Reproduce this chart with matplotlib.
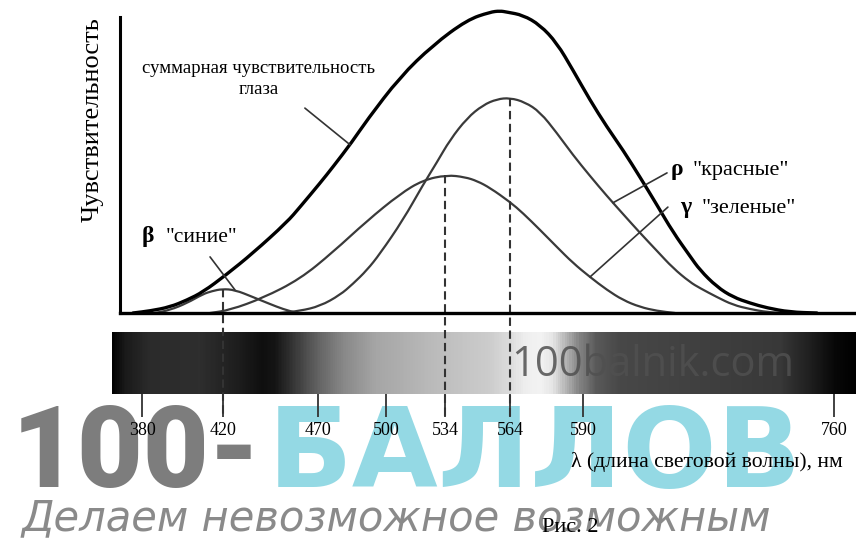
import numpy as np
import matplotlib
matplotlib.use("Agg")
from matplotlib import pyplot as plt
from matplotlib.path import Path
from matplotlib.patches import PathPatch

plt.rcParams['font.family'] = ['Liberation Serif', 'DejaVu Serif']

# wavelength ticks under the spectrum strip
tick_nm = [380, 420, 470, 500, 534, 564, 590, 760]

# the figure is schematic: the wavelength axis is not linear,
# so x goes through a piecewise scale (nm -> pixel column of the drawing)
scale_nm = [340, 380, 420, 470, 500, 534, 564, 590, 760, 800]
scale_px = [62, 142, 223, 318, 386, 445, 510, 583, 834, 893]

# summary sensitivity of the eye
total_nm = [375.5, 384.0, 393.8, 402.2, 410.1, 421.6, 435.8, 453.7, 460.5, 470.9,
            476.6, 485.0, 491.6, 508.1, 527.1, 544.2, 554.8, 559.4, 562.6, 568.6,
            574.7, 580.7, 586.4, 594.7, 606.2, 617.1, 628.6, 640.1, 650.9, 662.4,
            669.2, 680.7, 691.6, 703.1, 714.6, 730.1, 748.4]
total_y = [0, 0.7, 2.0, 4.3, 7.0, 12.7, 20.0, 30.3, 35.3, 43.3,
           48.7, 57.0, 64.3, 78.7, 89.3, 97.7, 100.3, 100.7, 100.3, 99.3,
           96.0, 90.0, 81.0, 71.0, 62.0, 54.3, 45.3, 36.0, 27.0, 19.0,
           14.3, 8.7, 5.3, 3.3, 1.7, 0.3, 0]

# rho, "red" cones
rho_nm = [450.0, 460.5, 470.9, 479.7, 485.4, 491.6, 497.3, 509.8, 521.3, 529.4,
          536.3, 544.2, 551.5, 558.0, 564.0, 569.3, 574.7, 580.7, 586.4, 594.7,
          606.2, 617.1, 628.6, 640.1, 650.9, 662.4, 669.2, 680.7, 691.6, 703.1,
          714.6, 726.8]
rho_y = [0, 0.7, 2.3, 6.0, 9.7, 14.3, 19.7, 31.0, 42.7, 50.3,
         57.7, 65.0, 69.3, 71.3, 71.7, 70.3, 67.0, 60.0, 52.7, 45.7,
         39.0, 33.0, 26.7, 20.7, 15.0, 10.3, 8.3, 5.3, 2.7, 1.3,
         0.3, 0]

# gamma, "green" cones
gamma_nm = [413.6, 423.7, 441.0, 460.5, 476.6, 491.6, 508.1, 521.3, 534.9, 543.2,
            548.8, 554.8, 564.0, 568.6, 574.7, 580.7, 586.4, 594.7, 606.2, 617.1,
            628.6, 640.1, 652.3]
gamma_y = [0, 1.0, 5.0, 11.3, 20.3, 30.7, 39.7, 44.3, 46.0, 45.3,
           44.0, 41.7, 37.0, 33.3, 27.7, 22.0, 16.7, 12.0, 7.7, 4.3,
           2.0, 0.7, 0]

# beta, "blue" cones
beta_nm = [386.4, 393.8, 402.2, 410.1, 414.6, 419.5, 426.3, 435.8, 444.7, 451.6, 458.9]
beta_y = [0, 1.0, 3.3, 6.3, 7.3, 8.0, 7.7, 5.3, 3.0, 1.3, 0]

# grey level of the spectrum strip
strip_nm = [365, 371.5, 384, 408.7, 426.3, 440.5, 447.4, 465.8, 481.0, 496.0,
            523.6, 539.1, 554.8, 564.0, 569.3, 574.7, 579.0, 583.6, 588.9, 598.8,
            615.0, 669.2, 723.4, 743.7, 760.7, 775]
strip_grey = [0.0, 0.10, 0.17, 0.18, 0.12, 0.06, 0.08, 0.33, 0.53, 0.65,
              0.72, 0.76, 0.80, 0.86, 0.93, 0.95, 0.90, 0.72, 0.50, 0.35,
              0.28, 0.25, 0.22, 0.12, 0.03, 0.0]


def fwd(x):
    return np.interp(x, scale_nm, scale_px)


def inv(p):
    return np.interp(p, scale_px, scale_nm)


W, H = 856, 543


def box(x0, y0, x1, y1):
    # pixel box of the original drawing -> figure fraction
    return [x0 / W, 1 - y1 / H, (x1 - x0) / W, (y1 - y0) / H]


def smooth_line(ax, xs, ys, **kw):
    # read points are control points of quadratic Bezier pieces;
    # the joints are midpoints taken in the scaled (drawn) x, so no kinks at scale nodes
    px = fwd(np.asarray(xs, float))
    ys = np.asarray(ys, float)
    mid = lambda i: (inv((px[i] + px[i + 1]) / 2), (ys[i] + ys[i + 1]) / 2)
    verts = [(xs[0], ys[0]), mid(0)]
    codes = [Path.MOVETO, Path.LINETO]
    for i in range(1, len(xs) - 1):
        verts += [(xs[i], ys[i]), mid(i)]
        codes += [Path.CURVE3, Path.CURVE3]
    verts.append((xs[-1], ys[-1]))
    codes.append(Path.LINETO)
    patch = PathPatch(Path(verts, codes), fill=False, clip_on=False,
                      capstyle='round', joinstyle='round', **kw)
    ax.add_patch(patch)


fig = plt.figure(figsize=(W / 100, H / 100), dpi=100)

# --- watermark (behind everything)
fig.text(12 / W, 1 - 487 / H, '100-', family='Roboto', weight='heavy', fontsize=82,
         color='#7d7d7d', ha='left', va='baseline', zorder=-2)
fig.text(268 / W, 1 - 487 / H, 'БАЛЛОВ', family='DejaVu Sans', weight='bold', fontsize=80,
         color='#94d9e4', ha='left', va='baseline', zorder=-2)
fig.text(22 / W, 1 - 530 / H, 'Делаем невозможное возможным', family='DejaVu Sans',
         style='oblique', fontsize=30, color='#8a8a8a', ha='left', va='baseline', zorder=-2)

# --- spectrum strip
axb = fig.add_axes(box(112, 332, 856, 394))
axb.set_zorder(1)
axb.patch.set_alpha(0)
axb.set_xscale('function', functions=(fwd, inv))
edges = np.linspace(inv(112), inv(856), 500)
mids = (edges[:-1] + edges[1:]) / 2
axb.pcolormesh(edges, [0, 1], np.interp(mids, strip_nm, strip_grey)[None, :],
               cmap='gray', vmin=0, vmax=1, shading='flat')
axb.set_xlim(inv(112), inv(856))
axb.set_ylim(0, 1)
axb.set_yticks([])
axb.set_xticks(tick_nm)
axb.set_xticklabels([str(t) for t in tick_nm])
axb.minorticks_off()
axb.tick_params(axis='x', direction='out', length=16.5, width=1.3, color='#333333',
                pad=4, labelsize=13)
for s in axb.spines.values():
    s.set_visible(False)
fig.text(511 / W, 1 - 365 / H, '100balnik.com', family='Open Sans', fontsize=30,
         color='#505050', alpha=0.85, ha='left', va='center', zorder=3)

# --- curves
ax = fig.add_axes(box(120, 5, 856, 313))
ax.set_zorder(2)
ax.patch.set_alpha(0)
ax.set_xscale('function', functions=(fwd, inv))
ax.set_xlim(inv(120), inv(856))
ax.set_ylim(0, 308 / 3)
ax.set_xticks([])
ax.set_yticks([])
ax.minorticks_off()
ax.spines['top'].set_visible(False)
ax.spines['right'].set_visible(False)
ax.spines['left'].set_linewidth(2.2)
ax.spines['bottom'].set_linewidth(2.4)
ax.spines['left'].set_bounds(0, 296 / 3)

cone = '#3a3a3a'
smooth_line(ax, beta_nm, beta_y, edgecolor=cone, lw=1.6)
smooth_line(ax, gamma_nm, gamma_y, edgecolor=cone, lw=1.6)
smooth_line(ax, rho_nm, rho_y, edgecolor=cone, lw=1.6)
smooth_line(ax, total_nm, total_y, edgecolor='black', lw=2.4)

# dashed drops from the cone maxima to the strip
for nm, xs, ys in [(420, beta_nm, beta_y), (534, gamma_nm, gamma_y), (564, rho_nm, rho_y)]:
    top = np.interp(nm, xs, ys)
    ax.plot([nm, nm], [top, -104 / 3], color='#333333', lw=1.5, ls=(0, (4, 2.2)),
            clip_on=False)

# labels with leader lines
lead = dict(arrowstyle='-', color='#333333', lw=1.2, shrinkA=0, shrinkB=0)
ax.annotate('', xy=(484.1, np.interp(484.1, total_nm, total_y)), xytext=(463.1, 68.3),
            arrowprops=lead)
ax.annotate('', xy=(426.3, np.interp(426.3, beta_nm, beta_y)), xytext=(413.6, 18.7),
            arrowprops=lead)
ax.annotate('', xy=(610.3, np.interp(610.3, rho_nm, rho_y)), xytext=(646.9, 46.7),
            arrowprops=lead)
ax.annotate('', xy=(594.7, np.interp(594.7, gamma_nm, gamma_y)), xytext=(647.5, 35.3),
            arrowprops=lead)

ax.text(438.9, 80, 'суммарная чувствительность', ha='center', va='baseline', fontsize=13.5)
ax.text(438.9, 73, 'глаза', ha='center', va='baseline', fontsize=13.5)
ax.text(380, 23.7, 'β', ha='left', va='baseline', fontsize=17, weight='bold')
ax.text(391.9, 23.7, '"синие"', ha='left', va='baseline', fontsize=15.5)
ax.text(649.6, 46, 'ρ', ha='left', va='baseline', fontsize=17, weight='bold')
ax.text(664.5, 46, '"красные"', ha='left', va='baseline', fontsize=16)
ax.text(655.7, 33.3, 'γ', ha='left', va='baseline', fontsize=17, weight='bold')
ax.text(670.6, 33.3, '"зеленые"', ha='left', va='baseline', fontsize=16)

fig.text(93 / W, 1 - 120 / H, 'Чувствительность', rotation=90, ha='center', va='center',
         fontsize=19)
fig.text(571 / W, 1 - 462 / H, 'λ (длина световой волны), нм', ha='left', va='center',
         fontsize=15.6)
fig.text(570 / W, 1 - 527 / H, 'Рис. 2', ha='center', va='center', fontsize=16)

fig.savefig('out.png', dpi=100)
